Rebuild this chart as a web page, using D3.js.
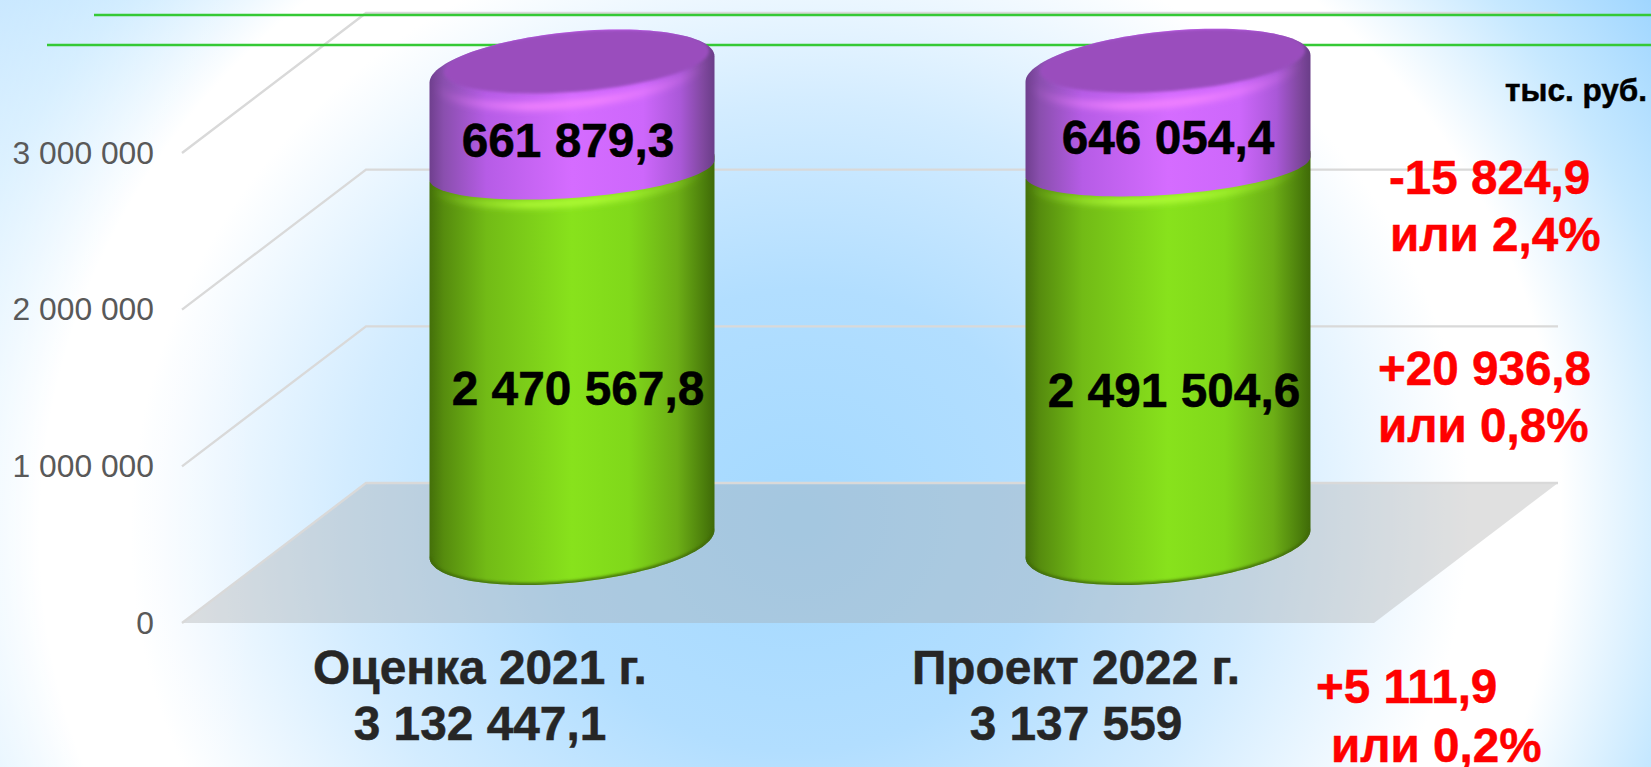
<!DOCTYPE html>
<html><head><meta charset="utf-8">
<script src="https://cdn.jsdelivr.net/npm/d3@7/dist/d3.min.js"></script>
<style>html,body{margin:0;padding:0;background:#fff;overflow:hidden}svg{display:block}text{font-family:"Liberation Sans",Arial,sans-serif}</style>
</head><body><svg id="c" width="1651" height="767"></svg>
<script>
const categories = ["Оценка 2021 г.", "Проект 2022 г."];
const categoryTotals = ["3 132 447,1", "3 137 559"];
const lowerValues = [2470567.8, 2491504.6];
const upperValues = [661879.3, 646054.4];
const lowerLabels = ["2 470 567,8", "2 491 504,6"];
const upperLabels = ["661 879,3", "646 054,4"];
const tickValues = [0, 1000000, 2000000, 3000000];
const changeLabels = ["-15 824,9", "или 2,4%", "+20 936,8", "или 0,8%", "+5 111,9", "или 0,2%"];
const unitLabel = "тыс. руб.";

const svg = d3.select("#c"), W = 1651, H = 767;
const defs = svg.append("defs");
const grad = (id, stops, attrs) => {
  const g = defs.append(attrs && attrs.radial ? "radialGradient" : "linearGradient").attr("id", id);
  if (attrs) Object.entries(attrs).forEach(([k, v]) => { if (k !== "radial") g.attr(k, v); });
  stops.forEach(([o, c, a]) => g.append("stop").attr("offset", o).attr("stop-color", c).attr("stop-opacity", a === undefined ? 1 : a));
};
const bgT = "translate(800,520) rotate(-6) scale(1015,924)";
grad("bg", [[0,"#a4d9ff"],[0.25,"#b2deff"],[0.45,"#d3ecff"],[0.66,"#ffffff"],[0.75,"#ffffff"],[0.88,"#c6e8ff"],[1,"#a0d6ff"]],
  {radial:true, gradientUnits:"userSpaceOnUse", cx:0, cy:0, r:1, fx:0, fy:0, gradientTransform:bgT});
grad("bgLeft", [[0,"#ffffff",0.4],[1,"#ffffff",0]]);
grad("greenBody", [[0,"#44700a"],[0.05,"#568c0e"],[0.2,"#72bb16"],[0.5,"#88e21c"],[0.7,"#80d81a"],[0.87,"#6cae16"],[0.96,"#4d800c"],[1,"#3f6a08"]]);
grad("purpleBody", [[0,"#6f3f8e"],[0.05,"#8a4fae"],[0.2,"#b65ce6"],[0.5,"#d56cff"],[0.75,"#cd67fb"],[0.88,"#aa58d8"],[0.96,"#80489f"],[1,"#6a3d88"]]);
grad("hlP", [[0,"#f584ff",0],[0.35,"#f584ff",0.9],[0.6,"#f584ff",0.9],[1,"#f584ff",0]]);
grad("hlG", [[0,"#b4ff38",0],[0.35,"#b4ff38",0.95],[0.6,"#b4ff38",0.95],[1,"#b4ff38",0]]);
defs.append("filter").attr("id","b3").attr("x","-20%").attr("y","-50%").attr("width","140%").attr("height","200%")
  .append("feGaussianBlur").attr("stdDeviation",3);
defs.append("filter").attr("id","b1").attr("x","-20%").attr("y","-50%").attr("width","140%").attr("height","200%")
  .append("feGaussianBlur").attr("stdDeviation",1.4);

svg.append("rect").attr("width",W).attr("height",H).attr("fill","url(#bg)");
svg.append("rect").attr("width",260).attr("height",H).attr("fill","url(#bgLeft)");

// scales: front plane of the 3D box, with a fixed depth shift
const x = d3.scaleBand().domain(categories).range([182, 1374]);
const y = d3.scaleLinear().domain([0, 3000000]).range([623, 153]);
const depth = {dx: 184, dy: -140};
// plane where the cylinders stand (half way into the box)
const yCyl = d3.scaleLinear().domain([0, 3000000]).range([543.5, 89.5]);
const R = 142.5, yR = 40, yRJoin = 30, rho = 0.33, rho2 = Math.sqrt(1 - rho * rho);
const xc = c => x(c) + x.bandwidth() / 2;
const xCyl = c => xc(c) + depth.dx / 2;

// floor
const fl = [[x.range()[0], y(0)], [x.range()[0]+depth.dx, y(0)+depth.dy], [x.range()[1]+depth.dx, y(0)+depth.dy], [x.range()[1], y(0)]];
svg.append("path").attr("d", d3.line()(fl)).attr("fill","#a3a3a3").attr("fill-opacity",0.34);
// grid
svg.append("g").selectAll("path").data(tickValues).join("path")
  .attr("d", v => d3.line()([[x.range()[0], y(v)], [x.range()[0]+depth.dx, y(v)+depth.dy], [x.range()[1]+depth.dx, y(v)+depth.dy]]))
  .attr("fill","none").attr("stroke","#d9d9d9").attr("stroke-width",2.4);

// green guide lines
const guides = [{x0:94,y:15},{x0:47,y:45}];
svg.append("g").selectAll("line").data(guides).join("line")
  .attr("x1",d=>d.x0).attr("x2",W).attr("y1",d=>d.y).attr("y2",d=>d.y)
  .attr("stroke","#35c935").attr("stroke-width",2.4);

// axis
const fmt = d3.formatLocale({decimal:",",thousands:" ",grouping:[3],currency:["",""]}).format(",d");
const ax = svg.append("g").attr("transform","translate(154,0)")
  .call(d3.axisLeft(y).tickValues(tickValues).tickFormat(fmt).tickSize(0).tickPadding(0));
ax.select(".domain").remove();
ax.selectAll("text").attr("font-size",31.8).attr("fill","#595959").attr("font-family",'"Liberation Sans"');

// cylinders
const arc = (cx, cy, a0, a1, r=R, yr=yR) => d3.range(0, 61).map(i => {
  const t = a0 + (a1 - a0) * i / 60;
  return [cx + r * Math.cos(t), cy + yr * (-rho * Math.cos(t) + rho2 * Math.sin(t))];
});
const ln = d3.line();
const silhouette = (cx, y0, yr0, y1, yr1) => ln([...arc(cx, y0, 0, Math.PI, R, yr0), ...arc(cx, y1, Math.PI, 2*Math.PI, R, yr1)]) + "Z";
categories.forEach((c, i) => {
  const cx = xCyl(c), gid = "clip" + i;
  const y0 = yCyl(0), y1 = yCyl(lowerValues[i]), y2 = yCyl(lowerValues[i] + upperValues[i]);
  const g = svg.append("g");
  const gs = silhouette(cx, y0, yR+1.5, y1, yR), ps = silhouette(cx, y1, yRJoin, y2, yR);
  g.append("path").attr("d", gs).attr("fill", "url(#greenBody)");
  defs.append("clipPath").attr("id", gid+"g").append("path").attr("d", gs);
  defs.append("clipPath").attr("id", gid+"p").append("path").attr("d", ps);
  g.append("g").attr("clip-path",`url(#${gid}g)`).append("path").attr("d", ln(arc(cx, y0, 0, Math.PI, R, yR+1.5)))
    .attr("fill","none").attr("stroke","#3f6a08").attr("stroke-width",4).attr("filter","url(#b1)");
  g.append("g").attr("clip-path",`url(#${gid}g)`).append("path").attr("d", ln(arc(cx-4, y1+5, 0.15, Math.PI-0.15, R-4, yRJoin)))
    .attr("fill","none").attr("stroke","url(#hlG)").attr("stroke-width",7).attr("filter","url(#b3)");
  g.append("path").attr("d", ps).attr("fill", "url(#purpleBody)");
  const gp = g.append("g").attr("clip-path",`url(#${gid}p)`);
  gp.append("path").attr("d", ln(arc(cx-2, y2-1, 0.15, Math.PI-0.15, R-6, yR-2)))
    .attr("fill","none").attr("stroke","url(#hlP)").attr("stroke-width",8).attr("filter","url(#b3)");
  gp.append("path").attr("d", ln(arc(cx+4.5, y2-8, 0, 2*Math.PI, R-10, yR-8))+"Z").attr("fill","#9a4dbd").attr("filter","url(#b1)");
});

// text helper
const txt = (s, px, py, size, fill, anchor="middle") => svg.append("text").attr("x",px).attr("y",py)
  .attr("font-size",size).attr("font-weight","bold").attr("fill",fill).attr("stroke",fill).attr("stroke-width",0.5).attr("text-anchor",anchor).text(s);

const upperLayout = [{dx:-4,y:157},{dx:0,y:154}], lowerLayout = [{dx:6,y:405},{dx:6,y:407}];
categories.forEach((c, i) => {
  txt(upperLabels[i], xCyl(c)+upperLayout[i].dx, upperLayout[i].y, 47.8, "#000");
  txt(lowerLabels[i], xCyl(c)+lowerLayout[i].dx, lowerLayout[i].y, 47.8, "#000");
  txt(c, xc(c), 684, 47.8, "#262626");
  txt(categoryTotals[i], xc(c), 740, 47.8, "#262626");
});
const changeLayout = [[1389,194],[1390,251],[1378,385],[1378,442],[1316,703],[1331,762]];
changeLabels.forEach((s,i)=>txt(s, changeLayout[i][0], changeLayout[i][1], 47.6, "#ff0000", "start"));
txt(unitLabel, 1647, 101, 31.5, "#000", "end");
</script></body></html>
